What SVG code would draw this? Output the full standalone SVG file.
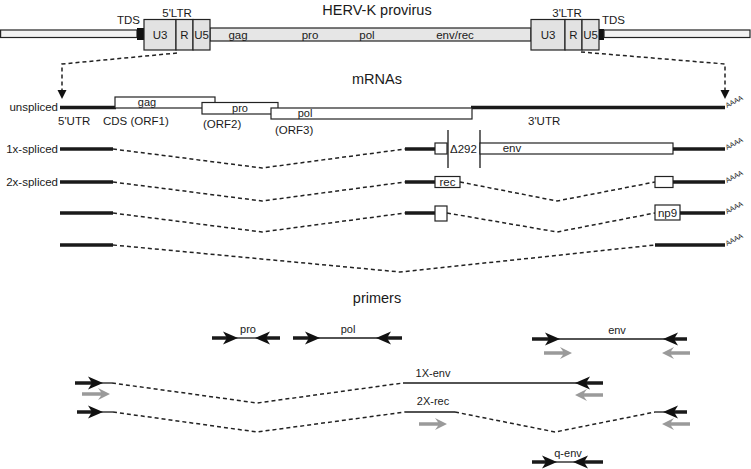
<svg xmlns="http://www.w3.org/2000/svg" width="751" height="469" viewBox="0 0 751 469">
<style>
text{font-family:"Liberation Sans",Arial,sans-serif;fill:#1a1a1a;font-size:11.5px}
.h{font-size:14.5px;text-anchor:middle}
.m{text-anchor:middle}
.e{text-anchor:end}
.s{font-size:11px}
.bar{fill:#f2f2f2;stroke:#222;stroke-width:1.2}
.body{fill:#e6e6e6;stroke:#222;stroke-width:1.2}
.ltr{fill:#e2e2e2;stroke:#222;stroke-width:1.2}
.tds{fill:#111}
.thick{stroke:#1a1a1a;stroke-width:3.5;fill:none}
.thin{stroke:#1a1a1a;stroke-width:1.3;fill:none}
.dash{stroke:#222;stroke-width:1.5;fill:none;stroke-dasharray:4 3}
.box{fill:#fff;stroke:#222;stroke-width:1.2}
.poly{font-size:7px}
</style>
<defs>
<path id="bR" d="M0,0 L-15,-6.5 L-11,0 L-15,6.5 Z" fill="#111"/>
<path id="bL" d="M0,0 L15,-6.5 L11,0 L15,6.5 Z" fill="#111"/>
<path id="gR" d="M0,0 L-12,-6 L-9,-1.8 L-28,-1.8 L-28,1.8 L-9,1.8 L-12,6 Z" fill="#9a9a9a"/>
<path id="gL" d="M0,0 L12,-6 L9,-1.8 L28,-1.8 L28,1.8 L9,1.8 L12,6 Z" fill="#9a9a9a"/>
<path id="dnArrow" d="M-4.5,-8 L4.5,-8 L0,1 Z" fill="#111"/>
</defs>

<g id="provirus">
<text class="h" x="377" y="15">HERV-K provirus</text>
<rect class="bar" x="0.6" y="30" width="136.4" height="7.5"/>
<rect class="tds" x="137" y="28" width="7" height="12"/>
<rect class="body" x="210" y="28" width="321" height="13"/>
<rect class="ltr" x="144" y="19.5" width="32" height="30.5"/>
<rect class="ltr" x="176" y="19.5" width="17" height="30.5"/>
<rect class="ltr" x="193" y="19.5" width="17" height="30.5"/>
<rect class="ltr" x="531" y="19.5" width="34" height="30.5"/>
<rect class="ltr" x="565" y="19.5" width="17" height="30.5"/>
<rect class="ltr" x="582" y="19.5" width="17" height="30.5"/>
<rect class="tds" x="599" y="29" width="5" height="11"/>
<rect class="bar" x="604" y="30" width="146" height="7.5"/>
<text x="117" y="24">TDS</text>
<text class="m" x="177" y="17">5'LTR</text>
<text class="m" x="567" y="17">3'LTR</text>
<text x="602" y="24">TDS</text>
<text class="m" x="160" y="39">U3</text>
<text class="m" x="184.5" y="39">R</text>
<text class="m" x="201.5" y="39">U5</text>
<text class="m" x="238" y="38.5">gag</text>
<text class="m" x="310" y="38.5">pro</text>
<text class="m" x="367" y="38.5">pol</text>
<text class="m" x="455" y="38.5">env/rec</text>
<text class="m" x="548" y="39">U3</text>
<text class="m" x="573.5" y="39">R</text>
<text class="m" x="590.5" y="39">U5</text>
</g>

<g id="connectors">
<polyline class="dash" points="177,53 62,64 62,90"/>
<use href="#dnArrow" x="62" y="98"/>
<polyline class="dash" points="581,52 725,64 725,90"/>
<use href="#dnArrow" x="725" y="98"/>
</g>

<g id="mrna-title"><text class="h" x="377" y="84">mRNAs</text></g>

<g id="unspliced">
<text class="e" x="58" y="111">unspliced</text>
<line class="thick" x1="60" y1="107.5" x2="116" y2="107.5"/>
<line class="thick" x1="471" y1="107.5" x2="725" y2="107.5"/>
<rect class="box" x="115" y="97" width="100" height="11"/>
<rect class="box" x="202" y="102.5" width="76" height="11.5"/>
<rect class="box" x="271" y="108" width="201" height="11"/>
<text class="m s" x="147" y="106">gag</text>
<text class="m s" x="240" y="112">pro</text>
<text class="m s" x="305" y="117">pol</text>
<text x="58" y="125">5'UTR</text>
<text x="103" y="125">CDS (ORF1)</text>
<text x="203" y="128">(ORF2)</text>
<text x="275" y="134">(ORF3)</text>
<text x="528" y="125">3'UTR</text>
<text class="poly" transform="translate(727,108) rotate(-28)">AAAA</text>
</g>

<g id="spliced-1x">
<text class="e" x="58" y="153">1x-spliced</text>
<line class="thick" x1="60" y1="149" x2="113" y2="149"/>
<polyline class="dash" points="113,149 262,168 405,149"/>
<line class="thick" x1="405" y1="149" x2="436" y2="149"/>
<rect class="box" x="435" y="143" width="12" height="11"/>
<line class="thin" x1="448" y1="130" x2="448" y2="168"/>
<line class="thin" x1="480" y1="130" x2="480" y2="168"/>
<text x="450" y="153">Δ292</text>
<rect class="box" x="480" y="143" width="193" height="11"/>
<text class="m" x="512" y="152">env</text>
<line class="thick" x1="673" y1="149" x2="725" y2="149"/>
<text class="poly" transform="translate(727,150) rotate(-28)">AAAA</text>
</g>

<g id="spliced-2x-rec">
<text class="e" x="58" y="186">2x-spliced</text>
<line class="thick" x1="60" y1="182" x2="113" y2="182"/>
<polyline class="dash" points="113,182 262,201 405,182"/>
<line class="thick" x1="405" y1="182" x2="436" y2="182"/>
<rect class="box" x="435" y="176.5" width="25" height="11"/>
<text class="m" x="447.5" y="186">rec</text>
<polyline class="dash" points="460,182 557,201 655,182"/>
<rect class="box" x="655" y="176.5" width="18" height="11"/>
<line class="thick" x1="673" y1="182" x2="725" y2="182"/>
<text class="poly" transform="translate(727,183) rotate(-28)">AAAA</text>
</g>

<g id="spliced-2x-np9">
<line class="thick" x1="60" y1="213" x2="113" y2="213"/>
<polyline class="dash" points="113,213 262,232 405,213"/>
<line class="thick" x1="405" y1="213" x2="436" y2="213"/>
<rect class="box" x="435" y="206" width="12" height="15"/>
<polyline class="dash" points="447,213 557,232 655,213"/>
<rect class="box" x="655" y="205" width="25" height="15"/>
<text class="m" x="667.5" y="217">np9</text>
<line class="thick" x1="680" y1="213" x2="725" y2="213"/>
<text class="poly" transform="translate(727,214) rotate(-28)">AAAA</text>
</g>

<g id="spliced-other">
<line class="thick" x1="60" y1="245" x2="113" y2="245"/>
<polyline class="dash" points="113,245 400,272 655,245"/>
<line class="thick" x1="655" y1="245" x2="725" y2="245"/>
<text class="poly" transform="translate(727,246) rotate(-28)">AAAA</text>
</g>

<g id="primers-title"><text class="h" x="377" y="303">primers</text></g>

<g id="primer-pro">
<line class="thick" x1="212" y1="338" x2="229" y2="338"/>
<line class="thin" x1="236" y1="338" x2="257" y2="338"/>
<line class="thick" x1="264" y1="338" x2="280" y2="338"/>
<use href="#bR" x="238" y="338"/>
<use href="#bL" x="255" y="338"/>
<text class="m s" x="248" y="333">pro</text>
</g>

<g id="primer-pol">
<line class="thick" x1="293" y1="338" x2="311" y2="338"/>
<line class="thin" x1="318" y1="338" x2="378" y2="338"/>
<line class="thick" x1="385" y1="338" x2="402" y2="338"/>
<use href="#bR" x="320" y="338"/>
<use href="#bL" x="376" y="338"/>
<text class="m s" x="348" y="333">pol</text>
</g>

<g id="primer-env">
<line class="thick" x1="532" y1="339" x2="551" y2="339"/>
<line class="thin" x1="558" y1="339" x2="665" y2="339"/>
<line class="thick" x1="672" y1="339" x2="687" y2="339"/>
<use href="#bR" x="560" y="339"/>
<use href="#bL" x="663" y="339"/>
<use href="#gR" x="572" y="353"/>
<use href="#gL" x="662" y="353"/>
<text class="m s" x="617" y="334">env</text>
</g>

<g id="primer-1x-env">
<line class="thick" x1="75" y1="383" x2="94" y2="383"/>
<line class="thin" x1="101" y1="383" x2="112" y2="383"/>
<use href="#bR" x="103" y="383"/>
<polyline class="dash" points="112,383 257,403 403,383"/>
<line class="thin" x1="403" y1="383" x2="577" y2="383"/>
<line class="thick" x1="584" y1="383" x2="603" y2="383"/>
<use href="#bL" x="575" y="383"/>
<use href="#gR" x="110" y="394"/>
<use href="#gL" x="575" y="395"/>
<text class="m s" x="433" y="377">1X-env</text>
</g>

<g id="primer-2x-rec">
<line class="thick" x1="77" y1="412" x2="94" y2="412"/>
<line class="thin" x1="101" y1="412" x2="113" y2="412"/>
<use href="#bR" x="103" y="412"/>
<polyline class="dash" points="113,412 257,432 405,412"/>
<line class="thin" x1="405" y1="412" x2="455" y2="412"/>
<polyline class="dash" points="455,412 555,432 655,412"/>
<line class="thin" x1="655" y1="412" x2="665" y2="412"/>
<line class="thick" x1="672" y1="412" x2="687" y2="412"/>
<use href="#bL" x="663" y="412"/>
<use href="#gR" x="447" y="424"/>
<use href="#gL" x="662" y="424"/>
<text class="m s" x="433" y="405">2X-rec</text>
</g>

<g id="primer-q-env">
<line class="thick" x1="532" y1="462" x2="548" y2="462"/>
<line class="thin" x1="555" y1="462" x2="575" y2="462"/>
<line class="thick" x1="582" y1="462" x2="603" y2="462"/>
<use href="#bR" x="557" y="462"/>
<use href="#bL" x="573" y="462"/>
<text class="m s" x="568" y="457">q-env</text>
</g>
</svg>
